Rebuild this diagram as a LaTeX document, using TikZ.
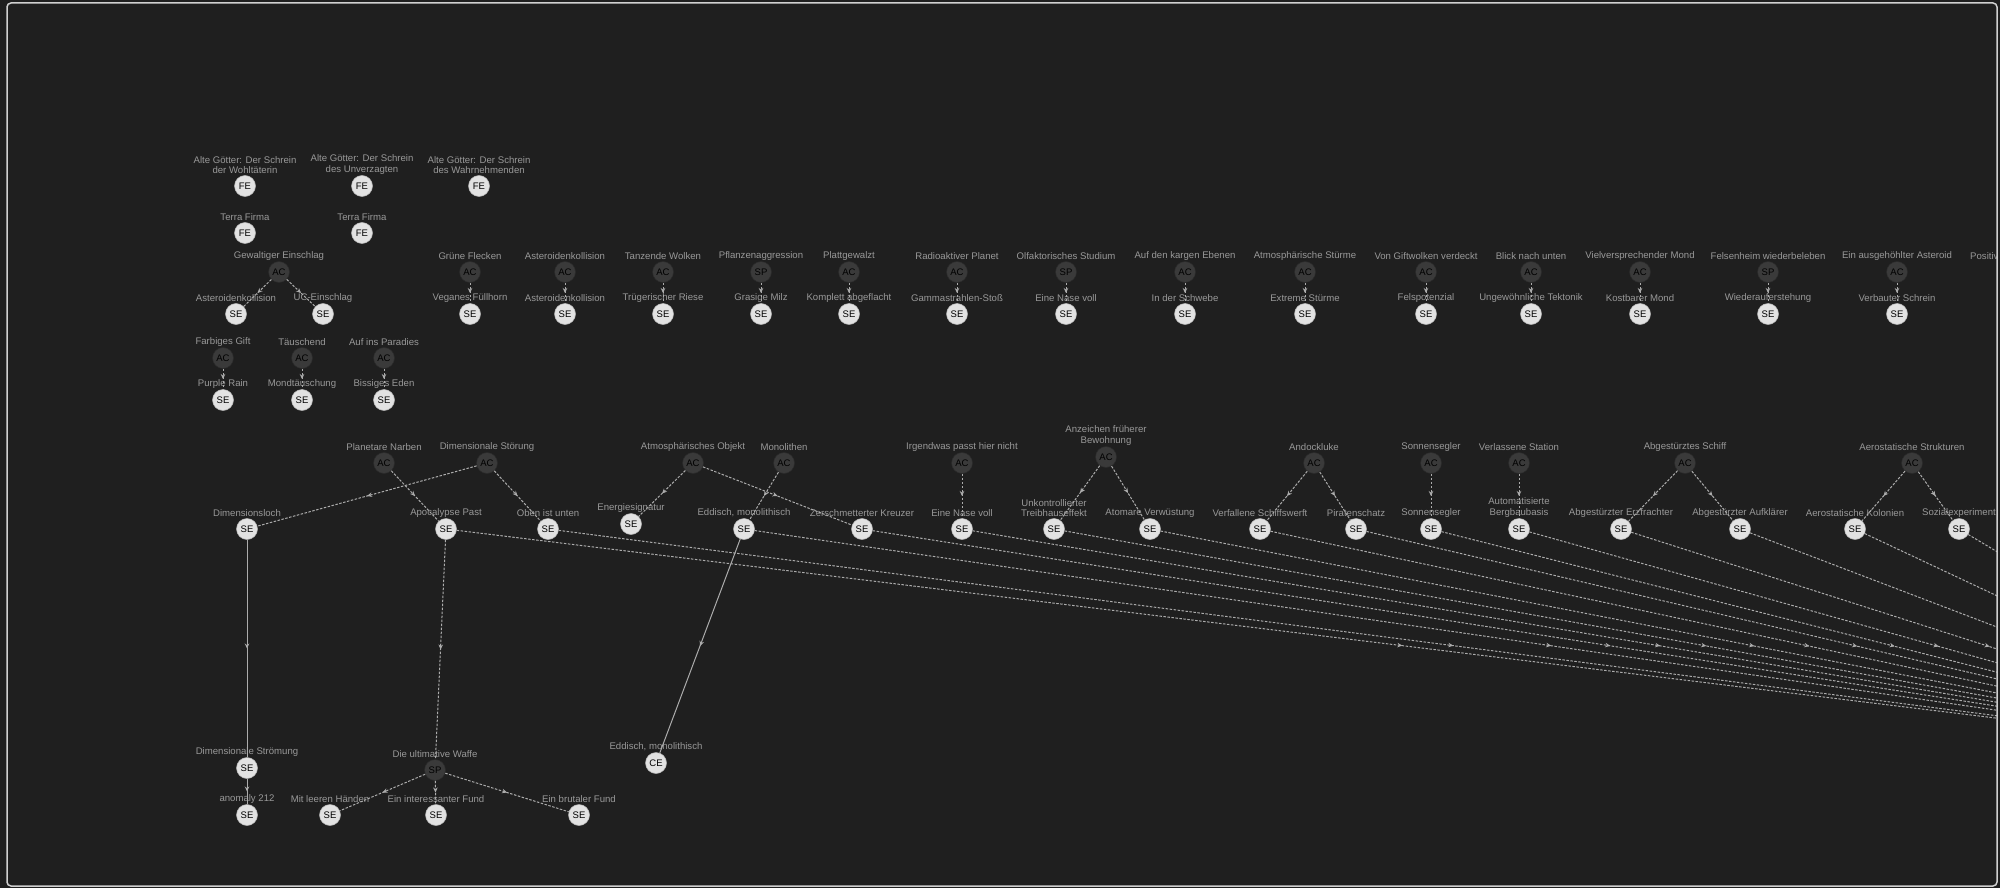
\documentclass[tikz,border=0pt]{standalone}
\usepackage{fontspec}
\setmainfont{Liberation Sans}
\usetikzlibrary{arrows.meta,decorations.markings}
\definecolor{bgc}{HTML}{1F1F1F}
\definecolor{framec}{HTML}{D0D0D0}
\definecolor{litec}{HTML}{E2E2E2}
\definecolor{liteb}{HTML}{B8B8B8}
\definecolor{darkc}{HTML}{3A3A3A}
\definecolor{darkb}{HTML}{2A2A2A}
\definecolor{lblc}{HTML}{999999}
\definecolor{edgec}{HTML}{ACACAC}
\tikzset{
  lite/.style={circle, fill=litec, draw=liteb, line width=0.5pt, minimum size=21pt, inner sep=0pt, font=\fontsize{9.5}{9.5}\selectfont, text=black},
  darkn/.style={lite, fill=darkc, draw=darkb},
  lbl/.style={text=lblc, font=\fontsize{9.6}{10.5}\selectfont, align=center, inner sep=0pt},
  midarr/.style={postaction={decorate}, decoration={markings, mark=at position 0.5 with {\arrow{Stealth[length=5pt,width=4.5pt]}}}},
  dedge/.style={draw=edgec, line width=1pt, dash pattern=on 2.5pt off 1.5pt, midarr},
  sedge/.style={draw=edgec, line width=1pt, midarr},
}
% name, style, type text, x, y, label
\newcommand\mkq[6]{\node[#2] (#1) at (#4,#5) {#3};
  \node[lbl, anchor=south] (#1-l) at ([yshift=1pt]#1.north) {#6};}
% name, style, type, x, upper label, lower label  (top row pair)
\newcommand\mkpair[6]{\mkq{#1}{#2}{#3}{#4}{272}{#5}
  \mkq{#1s}{lite}{SE}{#4}{314}{#6}
  \draw[dedge] (#1) -- (#1s);}
\begin{document}
\begin{tikzpicture}[x=1pt,y=-1pt]
\useasboundingbox (0,0) rectangle (2000,888);
\fill[bgc] (0,0) rectangle (2000,888);
\begin{scope}
\clip[rounded corners=4pt] (7,3) rectangle (1997,886);
% FE nodes
\mkq{f1}{lite}{FE}{245}{186}{Alte Götter: Der Schrein\\der Wohltäterin}
\mkq{f2}{lite}{FE}{362}{186}{Alte Götter: Der Schrein\\des Unverzagten}
\mkq{f3}{lite}{FE}{479}{186}{Alte Götter: Der Schrein\\des Wahrnehmenden}
\mkq{f4}{lite}{FE}{245}{233}{Terra Firma}
\mkq{f5}{lite}{FE}{362}{233}{Terra Firma}
% Gewaltiger Einschlag
\mkq{g}{darkn}{AC}{279}{272}{Gewaltiger Einschlag}
\mkq{g1}{lite}{SE}{236}{314}{Asteroidenkollision}
\mkq{g2}{lite}{SE}{323}{314}{UC-Einschlag}
\draw[dedge] (g) -- (g1);
\draw[dedge] (g) -- (g2);
% small pairs
\mkq{h}{darkn}{AC}{223}{358}{Farbiges Gift}
\mkq{h1}{lite}{SE}{223}{400}{Purple Rain}
\mkq{i}{darkn}{AC}{302}{358}{Täuschend}
\mkq{i1}{lite}{SE}{302}{400}{Mondtäuschung}
\mkq{j}{darkn}{AC}{384}{358}{Auf ins Paradies}
\mkq{j1}{lite}{SE}{384}{400}{Bissiges Eden}
\draw[dedge] (h) -- (h1);
\draw[dedge] (i) -- (i1);
\draw[dedge] (j) -- (j1);
% top row
\mkpair{ta}{darkn}{AC}{470}{Grüne Flecken}{Veganes Füllhorn}
\mkpair{tb}{darkn}{AC}{565}{Asteroidenkollision}{Asteroidenkollision}
\mkpair{tc}{darkn}{AC}{663}{Tanzende Wolken}{Trügerischer Riese}
\mkpair{td}{darkn}{SP}{761}{Pflanzenaggression}{Grasige Milz}
\mkpair{te}{darkn}{AC}{849}{Plattgewalzt}{Komplett abgeflacht}
\mkpair{tf}{darkn}{AC}{957}{Radioaktiver Planet}{Gammastrahlen-Stoß}
\mkpair{tg}{darkn}{SP}{1066}{Olfaktorisches Studium}{Eine Nase voll}
\mkpair{th}{darkn}{AC}{1185}{Auf den kargen Ebenen}{In der Schwebe}
\mkpair{ti}{darkn}{AC}{1305}{Atmosphärische Stürme}{Extreme Stürme}
\mkpair{tj}{darkn}{AC}{1426}{Von Giftwolken verdeckt}{Felspotenzial}
\mkpair{tk}{darkn}{AC}{1531}{Blick nach unten}{Ungewöhnliche Tektonik}
\mkpair{tl}{darkn}{AC}{1640}{Vielversprechender Mond}{Kostbarer Mond}
\mkpair{tm}{darkn}{SP}{1768}{Felsenheim wiederbeleben}{Wiederauferstehung}
\mkpair{tn}{darkn}{AC}{1897}{Ein ausgehöhlter Asteroid}{Verbauter Schrein}
\node[lbl, anchor=west] (pos) at (1970,256) {Positive};
% lower row
\mkq{pn}{darkn}{AC}{384}{463}{Planetare Narben}
\mkq{ds}{darkn}{AC}{487}{463}{Dimensionale Störung}
\mkq{dl}{lite}{SE}{247}{529}{Dimensionsloch}
\mkq{ap}{lite}{SE}{446}{529}{Apocalypse Past}
\mkq{ou}{lite}{SE}{548}{529}{Oben ist unten}
\mkq{ao}{darkn}{AC}{693}{463}{Atmosphärisches Objekt}
\mkq{es}{lite}{SE}{631}{524}{Energiesignatur}
\mkq{mo}{darkn}{AC}{784}{463}{Monolithen}
\mkq{em}{lite}{SE}{744}{529}{Eddisch, monolithisch}
\mkq{zk}{lite}{SE}{862}{529}{Zerschmetterter Kreuzer}
\mkq{ip}{darkn}{AC}{962}{463}{Irgendwas passt hier nicht}
\mkq{nv}{lite}{SE}{962}{529}{Eine Nase voll}
\mkq{af}{darkn}{AC}{1106}{457}{Anzeichen früherer\\Bewohnung}
\mkq{ut}{lite}{SE}{1054}{529}{Unkontrollierter\\Treibhauseffekt}
\mkq{av}{lite}{SE}{1150}{529}{Atomare Verwüstung}
\mkq{an}{darkn}{AC}{1314}{463}{Andockluke}
\mkq{vs}{lite}{SE}{1260}{529}{Verfallene Schiffswerft}
\mkq{pz}{lite}{SE}{1356}{529}{Piratenschatz}
\mkq{so}{darkn}{AC}{1431}{463}{Sonnensegler}
\mkq{sz}{lite}{SE}{1431}{529}{Sonnensegler}
\mkq{vt}{darkn}{AC}{1519}{463}{Verlassene Station}
\mkq{ab}{lite}{SE}{1519}{529}{Automatisierte\\Bergbaubasis}
\mkq{as}{darkn}{AC}{1685}{463}{Abgestürztes Schiff}
\mkq{ef}{lite}{SE}{1621}{529}{Abgestürzter Erzfrachter}
\mkq{au}{lite}{SE}{1740}{529}{Abgestürzter Aufklärer}
\mkq{ae}{darkn}{AC}{1912}{463}{Aerostatische Strukturen}
\mkq{ak}{lite}{SE}{1855}{529}{Aerostatische Kolonien}
\mkq{se}{lite}{SE}{1959}{529}{Sozialexperiment}
% bottom
\mkq{dst}{lite}{SE}{247}{768}{Dimensionale Strömung}
\mkq{an2}{lite}{SE}{247}{815}{anomaly 212}
\mkq{uw}{darkn}{SP}{435}{770}{Die ultimative Waffe}
\mkq{lh}{lite}{SE}{330}{815}{Mit leeren Händen}
\mkq{itf}{lite}{SE}{436}{815}{Ein interessanter Fund}
\mkq{bf}{lite}{SE}{579}{815}{Ein brutaler Fund}
\mkq{ce}{lite}{CE}{656}{763}{Eddisch, monolithisch}
\coordinate (Z) at (2348,761);
% lower edges
\draw[dedge] (pn) -- (ap);
\draw[dedge] (ds) -- (dl);
\draw[dedge] (ds) -- (ou);
\draw[dedge] (ao) -- (es);
\draw[dedge] (ao) -- (zk);
\draw[dedge] (mo) -- (em);
\draw[dedge] (ip) -- (nv);
\draw[dedge] (af) -- (ut);
\draw[dedge] (af) -- (av);
\draw[dedge] (an) -- (vs);
\draw[dedge] (an) -- (pz);
\draw[dedge] (so) -- (sz);
\draw[dedge] (vt) -- (ab);
\draw[dedge] (as) -- (ef);
\draw[dedge] (as) -- (au);
\draw[dedge] (ae) -- (ak);
\draw[dedge] (ae) -- (se);
\draw[sedge] (dl) -- (dst);
\draw[sedge] (dst) -- (an2);
\draw[sedge] (em) -- (ce);
\draw[dedge] (ap) -- (uw);
\draw[dedge] (uw) -- (lh);
\draw[dedge] (uw) -- (itf);
\draw[dedge] (uw) -- (bf);
\foreach \n in {ap,ou,em,zk,nv,ut,av,vs,pz,sz,ab,ef,au,ak,se}
  \draw[dedge] (\n) -- (Z);
\end{scope}
\draw[framec, line width=1.5pt, rounded corners=4pt] (7,3) rectangle (1997,886);
\end{tikzpicture}
\end{document}
